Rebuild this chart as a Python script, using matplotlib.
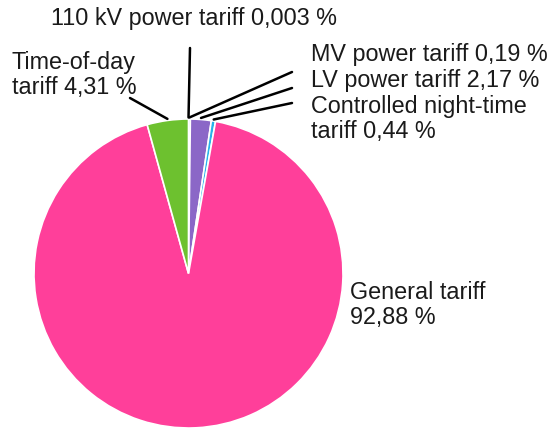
import matplotlib
matplotlib.use("Agg")
import matplotlib.pyplot as plt
import numpy as np

plt.rcParams['font.family'] = ['Liberation Sans', 'DejaVu Sans']

# data (percent of customers by tariff)
tariffs = ["110 kV power tariff", "MV power tariff", "LV power tariff",
           "Controlled night-time tariff", "General tariff", "Time-of-day tariff"]
shares = [0.003, 0.19, 2.17, 0.44, 92.88, 4.31]
share_labels = ["110 kV power tariff 0,003 %", "MV power tariff 0,19 %",
                "LV power tariff 2,17 %", "Controlled night-time\ntariff 0,44 %",
                "General tariff\n92,88 %", "Time-of-day\ntariff 4,31 %"]
colors = ["#5b5bd0", "#4a6fd0", "#8b67c7", "#27b3ea", "#ff3f9a", "#6dc12f"]

W, H = 552, 428
fig = plt.figure(figsize=(W / 100, H / 100), dpi=100)

# pie box in pixels: center (188.5, 273.5), radius 154.5
cx, cy, r = 188.5, 273.5, 154.5
ax = fig.add_axes([(cx - r) / W, (H - cy - r) / H, 2 * r / W, 2 * r / H])
wedges, _ = ax.pie(shares, colors=colors, startangle=90, counterclock=False,
                   radius=1.0, wedgeprops=dict(edgecolor="white", linewidth=1.2))
ax.set_xlim(-1, 1)
ax.set_ylim(-1, 1)
ax.axis("off")

# text anchor (x, center y in image pixels), alignment, leader start
label_pos = {
    0: ((194, 18), "center", (190, 48)),
    1: ((311, 54), "left", (292, 72)),
    2: ((311, 80), "left", (292, 88)),
    3: ((311, 119), "left", (292, 103)),
    4: ((350, 305), "left", None),
    5: ((12, 75), "left", (130, 98)),
}

for i, w in enumerate(wedges):
    (tx, ty), ha, lead = label_pos[i]
    fig.text(tx / W, (H - ty) / H, share_labels[i], ha=ha, va="center",
             fontsize=16.8, color="#1a1a1a", linespacing=1.15)
    if lead is not None:
        ang = np.deg2rad((w.theta1 + w.theta2) / 2)
        px, py = 1.01 * np.cos(ang), 1.01 * np.sin(ang)
        ax.annotate("", xy=(px, py), xycoords="data",
                    xytext=(lead[0], H - lead[1]), textcoords="figure pixels",
                    arrowprops=dict(arrowstyle="-", color="black", lw=1.8,
                                    shrinkA=0, shrinkB=0),
                    annotation_clip=False)

fig.savefig("out.png", dpi=100)
